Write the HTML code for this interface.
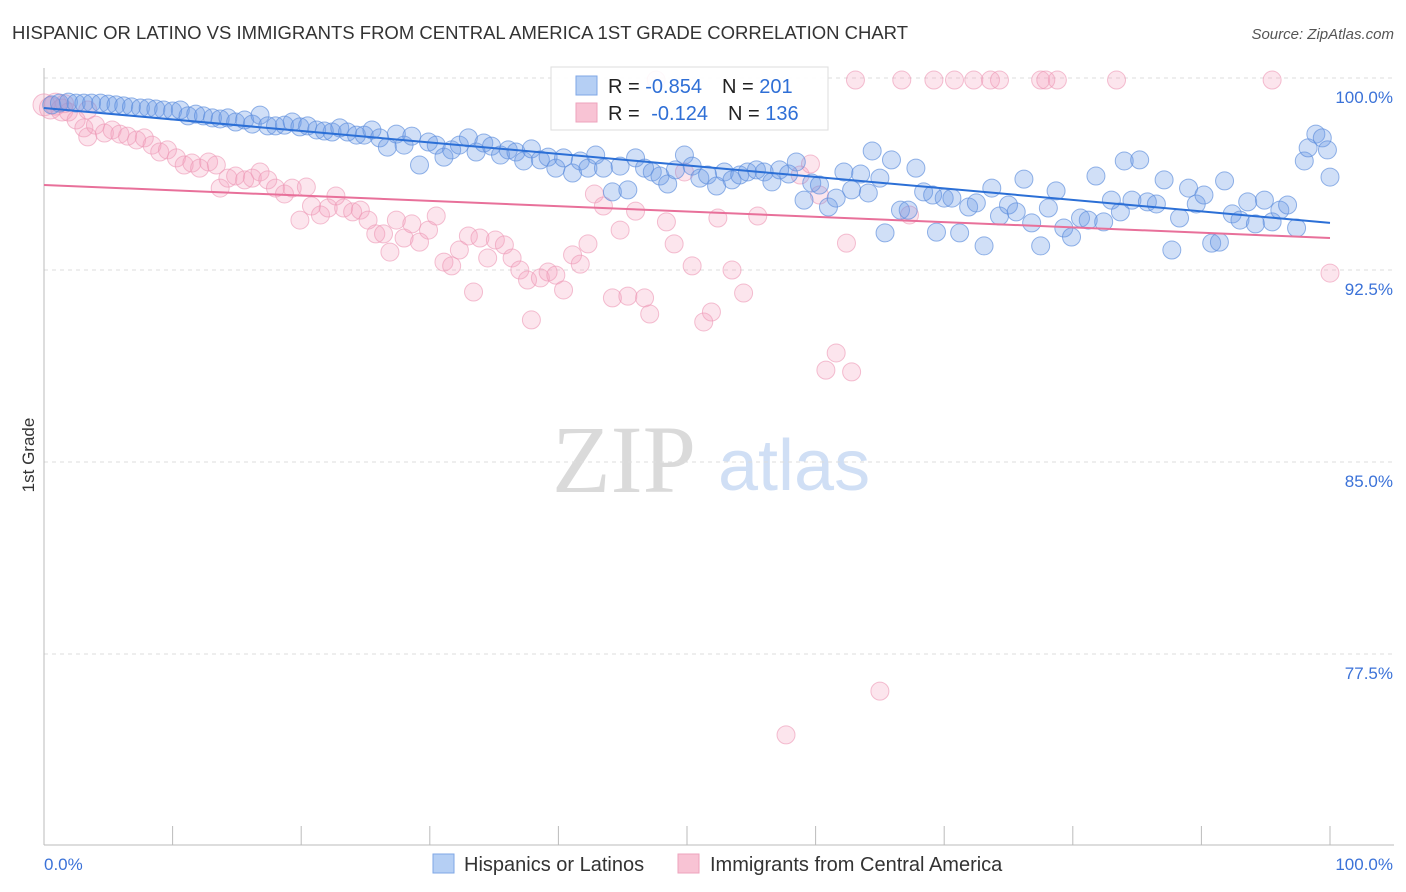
<!DOCTYPE html>
<html><head><meta charset="utf-8"><style>
body{margin:0;background:#fff;font-family:"Liberation Sans",sans-serif;}
svg{display:block}
</style></head><body>
<svg id="chart" width="1406" height="892">
<text x="12" y="39" font-size="18.5" fill="#333">HISPANIC OR LATINO VS IMMIGRANTS FROM CENTRAL AMERICA 1ST GRADE CORRELATION CHART</text>
<text x="1394" y="39" font-size="15" fill="#555" font-style="italic" text-anchor="end">Source: ZipAtlas.com</text>
<text transform="translate(34,455) rotate(-90)" font-size="17" fill="#333" text-anchor="middle">1st Grade</text>
<g>
<text x="552" y="492" font-size="96" font-family="Liberation Serif,serif" fill="#dadada">ZIP</text>
<text x="718" y="490" font-size="72" fill="#d0dff5">atlas</text>
</g>
<g id="grid"></g>
<g id="axes"></g>
<g id="pts"></g>
<g id="lines"></g>
<g>
<rect x="551" y="67" width="277" height="63" fill="#fff" fill-opacity="0.9" stroke="#ddd"/>
<rect x="576" y="76" width="21" height="19" fill="#b5cff4" stroke="#7fa7e6"/>
<rect x="576" y="103" width="21" height="19" fill="#f8c3d4" stroke="#eea3bd"/>
<text x="608" y="93" font-size="20" fill="#222">R = <tspan fill="#2f6fd6">-0.854</tspan><tspan dx="20">N = </tspan><tspan fill="#2f6fd6">201</tspan></text>
<text x="608" y="120" font-size="20" fill="#222">R = <tspan dx="6" fill="#2f6fd6">-0.124</tspan><tspan dx="20">N = </tspan><tspan fill="#2f6fd6">136</tspan></text>
</g>
<g>
<rect x="433" y="854" width="21" height="19" fill="#b5cff4" stroke="#7fa7e6"/>
<text x="464" y="871" font-size="20" fill="#333">Hispanics or Latinos</text>
<rect x="678" y="854" width="21" height="19" fill="#f8c3d4" stroke="#eea3bd"/>
<text x="710" y="871" font-size="20" fill="#333">Immigrants from Central America</text>
</g>
</svg>
<script>
const blueX=[0.6,1.2,1.9,2.5,3.1,3.7,4.4,5.0,5.6,6.2,6.8,7.5,8.1,8.7,9.3,10.0,10.6,11.2,11.8,12.4,13.1,13.7,14.3,14.9,15.6,16.2,16.8,17.4,18.0,18.7,19.3,19.9,20.5,21.2,21.8,22.4,23.0,23.6,24.3,24.9,25.5,26.1,26.7,27.4,28.0,28.6,29.2,29.9,30.5,31.1,31.7,32.3,33.0,33.6,34.2,34.8,35.5,36.1,36.7,37.3,37.9,38.6,39.2,39.8,40.4,41.1,41.7,42.3,42.9,43.5,44.2,44.8,45.4,46.0,46.7,47.3,47.9,48.5,49.1,49.8,50.4,51.0,51.6,52.3,52.9,53.5,54.1,54.7,55.4,56.0,56.6,57.2,57.9,58.5,59.1,59.7,60.3,61.0,61.6,62.2,62.8,63.5,64.1,64.4,65.0,65.4,65.9,66.6,67.2,67.8,68.4,69.1,69.4,70.0,70.6,71.2,71.9,72.5,73.1,73.7,74.3,75.0,75.6,76.2,76.8,77.5,78.1,78.7,79.3,79.9,80.6,81.2,81.8,82.4,83.0,83.7,84.0,84.6,85.2,85.8,86.5,87.1,87.7,88.3,89.0,89.6,90.2,90.8,91.4,91.8,92.4,93.0,93.6,94.2,94.9,95.5,96.1,96.7,97.4,98.0,98.3,98.9,99.4,99.8,100];
const blueY=[98.95,99.02,99.06,99.02,99.02,99.02,99.02,98.98,98.95,98.91,98.87,98.83,98.83,98.79,98.75,98.71,98.75,98.52,98.59,98.52,98.44,98.40,98.44,98.28,98.36,98.20,98.55,98.13,98.13,98.16,98.28,98.09,98.13,97.97,97.93,97.89,98.05,97.89,97.77,97.77,97.97,97.66,97.30,97.81,97.38,97.73,96.60,97.50,97.38,96.91,97.19,97.38,97.66,97.11,97.46,97.34,96.99,97.19,97.11,96.76,97.23,96.80,96.91,96.48,96.88,96.29,96.76,96.48,96.99,96.48,95.55,96.56,95.63,96.88,96.48,96.33,96.17,95.86,96.41,96.99,96.56,96.09,96.21,95.78,96.33,96.02,96.21,96.33,96.41,96.33,95.94,96.41,96.25,96.72,95.23,95.90,95.82,94.96,95.31,96.33,95.63,96.25,95.51,97.15,96.09,93.95,96.80,94.84,94.84,96.48,95.55,95.43,93.98,95.31,95.31,93.95,94.96,95.12,93.44,95.70,94.61,95.04,94.77,96.05,94.34,93.44,94.92,95.59,94.14,93.79,94.53,94.45,96.17,94.38,95.23,94.77,96.76,95.23,96.80,95.16,95.08,96.02,93.28,94.53,95.70,95.08,95.43,93.55,93.59,95.98,94.69,94.45,95.16,94.30,95.23,94.38,94.84,95.04,94.14,96.76,97.27,97.81,97.66,97.19,96.13];
const pinkX=[0,0.5,0.9,1.4,1.6,1.9,2.5,3.1,3.4,3.4,4.0,4.7,5.3,5.9,6.5,7.2,7.8,8.4,9.0,9.6,10.3,10.9,11.5,12.1,12.8,13.4,13.7,14.3,14.9,15.6,16.2,16.8,17.4,18.0,18.7,19.3,19.9,20.4,20.8,21.5,22.1,22.7,23.3,24.0,24.6,25.2,25.8,26.4,26.9,27.4,28.0,28.6,29.2,29.9,30.5,31.1,31.7,32.3,33.0,33.4,33.9,34.5,35.1,35.8,36.4,37.0,37.6,37.9,38.6,39.2,39.8,40.4,41.1,41.7,42.3,42.8,43.5,44.2,44.8,45.4,46.0,46.7,47.1,47.6,48.4,49.0,49.8,50.4,51.3,51.9,52.4,53.5,54.4,55.5,57.7,58.8,59.6,60.3,60.8,61.6,62.4,62.8,63.1,65.0,66.7,67.3,69.2,70.8,72.3,73.6,74.3,77.5,77.9,78.8,83.4,95.5,100];
const pinkY=[98.95,98.83,98.98,98.75,99.0,98.67,98.36,98.05,97.70,98.75,98.16,97.85,97.97,97.81,97.73,97.58,97.66,97.38,97.11,97.19,96.88,96.60,96.68,96.48,96.72,96.60,95.70,96.09,96.17,96.02,96.09,96.33,96.02,95.70,95.47,95.70,94.45,95.74,95.00,94.65,94.92,95.39,94.92,94.77,94.84,94.45,93.91,93.91,93.20,94.45,93.75,94.30,93.59,94.06,94.61,92.81,92.66,93.28,93.83,91.64,93.75,92.97,93.67,93.48,92.97,92.50,92.11,90.55,92.19,92.42,92.30,91.72,93.09,92.73,93.52,95.47,95.00,91.41,94.06,91.48,94.80,91.41,90.78,99.92,94.38,93.52,96.33,92.66,90.47,90.86,94.53,92.50,91.60,94.61,74.34,96.21,96.64,95.43,88.59,89.26,93.55,88.52,99.92,76.05,99.92,94.65,99.92,99.92,99.92,99.92,99.92,99.92,99.92,99.92,99.92,99.92,92.38];
const blueTrend=[98.83,94.34];
const pinkTrend=[95.82,93.75];
const yTicks=[100,92.5,85,77.5];
const yTickLabels=["100.0%","92.5%","85.0%","77.5%"];
const xTicks=[0,10,20,30,40,50,60,70,80,90,100];

const NS="http://www.w3.org/2000/svg";
const X=v=>44+v*12.86;
const Y=v=>78+(100-v)*25.6;
function mk(tag,attrs,parent){const e=document.createElementNS(NS,tag);for(const k in attrs)e.setAttribute(k,attrs[k]);parent.appendChild(e);return e;}
const grid=document.getElementById('grid'),axes=document.getElementById('axes'),pts=document.getElementById('pts'),lines=document.getElementById('lines');
yTicks.forEach((t,i)=>{
 const l=mk('line',{x1:44,x2:1394,y1:Y(t),y2:Y(t),stroke:'#ddd','stroke-dasharray':'4,4'},grid);
 
 
 const tx=mk('text',{x:1393,y:Y(t)+25,'font-size':17,fill:'#3b72d8','text-anchor':'end'},axes);
 tx.textContent=yTickLabels[i];
 
 
});
const ax=mk('line',{x1:44,x2:1394,y1:845,y2:845,stroke:'#bbb'},axes);


const ay=mk('line',{x1:44,x2:44,y1:68,y2:845,stroke:'#bbb'},axes);


xTicks.forEach(t=>{
 const l=mk('line',{x1:X(t),x2:X(t),y1:826,y2:845,stroke:'#bbb'},axes);
 
 
});
const xl0=mk('text',{x:44,y:870,'font-size':17,fill:'#3b72d8'},axes);xl0.textContent="0.0%";


const xl1=mk('text',{x:1393,y:870,'font-size':17,fill:'#3b72d8','text-anchor':'end'},axes);xl1.textContent="100.0%";


pinkX.forEach((x,i)=>{
 const c=mk('circle',{cx:X(x),cy:Y(pinkY[i]),r:i<4?11:9,fill:'rgba(244,160,190,0.28)',stroke:'rgba(236,150,180,0.6)','stroke-width':1},pts);
 
 
});
blueX.forEach((x,i)=>{
 const c=mk('circle',{cx:X(x),cy:Y(blueY[i]),r:9,fill:'rgba(110,155,230,0.32)',stroke:'rgba(90,140,220,0.65)','stroke-width':1},pts);
 
 
});
const bl=mk('line',{x1:X(0),x2:X(100),y1:Y(blueTrend[0]),y2:Y(blueTrend[1]),stroke:'#2b6fd6','stroke-width':2},lines);


const pl=mk('line',{x1:X(0),x2:X(100),y1:Y(pinkTrend[0]),y2:Y(pinkTrend[1]),stroke:'#e8709a','stroke-width':2},lines);


</script>
</body></html>
